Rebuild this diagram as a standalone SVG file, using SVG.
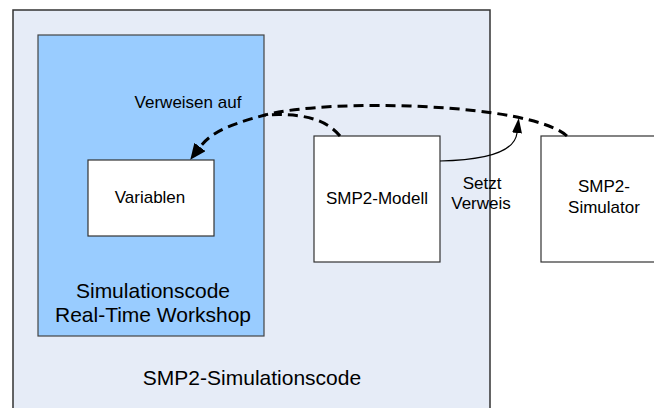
<svg xmlns="http://www.w3.org/2000/svg" width="654" height="408" viewBox="0 0 654 408">
<style>
text{font-family:"Liberation Sans",Arial,sans-serif;fill:#000;text-anchor:middle}
.s{font-size:17px}
.b{font-size:21px}
.box{fill:#fff;stroke:#333;stroke-width:1.2}
.dash{fill:none;stroke:#000;stroke-width:3;stroke-dasharray:10,6}
.thin{fill:none;stroke:#000;stroke-width:1.2}
</style>
<defs>
<marker id="bigArrow" markerUnits="userSpaceOnUse" markerWidth="16" markerHeight="14" viewBox="0 0 16 14" refX="0" refY="7" orient="auto">
<path d="M0,0 L16,7 L0,14 z" fill="#000"/>
</marker>
<marker id="smallArrow" markerUnits="userSpaceOnUse" markerWidth="15" markerHeight="10" viewBox="0 0 15 10" refX="0" refY="5" orient="auto">
<path d="M0,0 L15,5 L0,10 z" fill="#000"/>
</marker>
</defs>
<rect width="654" height="408" fill="#fff"/>
<g id="smp2-simulationscode">
<rect x="13" y="10" width="477" height="410" fill="#e6ecf7" stroke="#333" stroke-width="1.5"/>
<text class="b" x="252" y="385">SMP2-Simulationscode</text>
</g>
<g id="rtw">
<rect x="38" y="35" width="226" height="301" fill="#99ccff" stroke="#444" stroke-width="1.2"/>
<text class="b" x="153" y="298">Simulationscode</text>
<text class="b" x="153" y="322">Real-Time Workshop</text>
</g>
<g id="variablen">
<rect class="box" x="88" y="160" width="126" height="76"/>
<text class="s" x="150" y="203">Variablen</text>
</g>
<g id="smp2-modell">
<rect class="box" x="314" y="136" width="126" height="126"/>
<text class="s" x="377" y="204">SMP2-Modell</text>
</g>
<g id="smp2-simulator">
<rect class="box" x="541" y="136" width="126" height="126"/>
<text class="s" x="604" y="192">SMP2-</text>
<text class="s" x="604" y="213">Simulator</text>
</g>
<g id="connectors">
<path class="dash" d="M567,136 C530,103 330,98 265,115 C225,125.5 210,134 200,147" marker-end="url(#bigArrow)"/>
<path class="dash" d="M340,136 C325,118 300,113 265,115"/>
<path class="thin" d="M440,161 C490,160 515,150 517,133" marker-end="url(#smallArrow)"/>
<text class="s" x="188" y="108">Verweisen auf</text>
<text class="s" x="482" y="189">Setzt</text>
<text class="s" x="481" y="209">Verweis</text>
</g>
</svg>
